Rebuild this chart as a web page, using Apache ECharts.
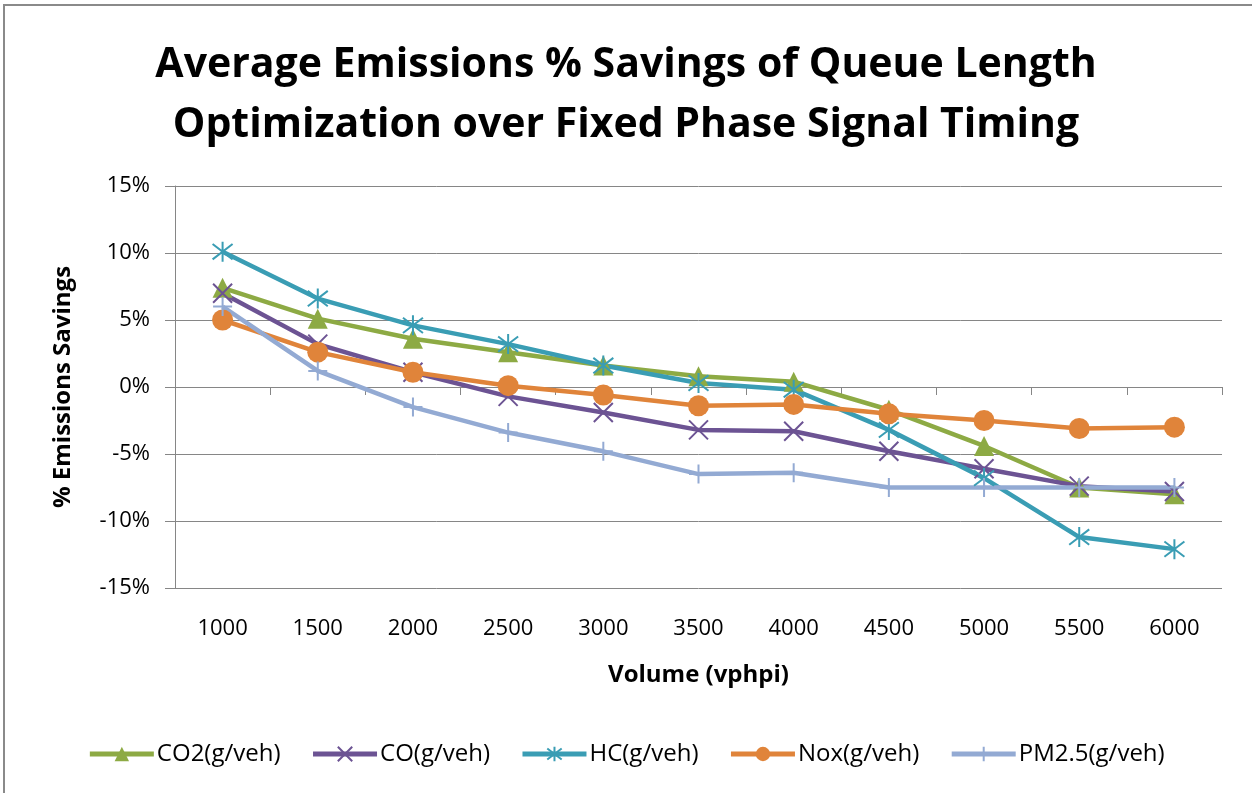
<!DOCTYPE html>
<html>
<head>
<meta charset="utf-8">
<script src="https://cdn.jsdelivr.net/npm/echarts@6/dist/echarts.min.js"></script>
<style>
html, body { margin: 0; padding: 0; background: #fff; }
#chart { width: 1252px; height: 793px; }
</style>
</head>
<body>
<div id="chart"></div>
<script>
// volume categories (vphpi)
var volumes = ['1000', '1500', '2000', '2500', '3000', '3500', '4000', '4500', '5000', '5500', '6000'];
// % savings per pollutant
var co2  = [7.4, 5.1, 3.6, 2.6, 1.6, 0.8, 0.4, -1.7, -4.4, -7.5, -8.0];
var co   = [7.0, 3.2, 1.1, -0.7, -1.9, -3.2, -3.3, -4.8, -6.1, -7.4, -7.8];
var hc   = [10.1, 6.6, 4.6, 3.2, 1.6, 0.3, -0.2, -3.2, -6.8, -11.2, -12.1];
var nox  = [5.0, 2.6, 1.1, 0.1, -0.6, -1.4, -1.3, -2.0, -2.5, -3.1, -3.0];
var pm25 = [6.0, 1.2, -1.5, -3.4, -4.8, -6.5, -6.4, -7.5, -7.5, -7.5, -7.5];
var yTicks = [-15, -10, -5, 0, 5, 10, 15];

var font = 'Open Sans';
var myChart = echarts.init(document.getElementById('chart'));

// one line series; stroke=true for the line-only markers (x, *, +)
function mkSeries(name, data, color, symbol, size, stroke) {
    return {
        name: name,
        type: 'line',
        data: data,
        symbol: symbol,
        symbolSize: size,
        showSymbol: true,
        xAxisIndex: 0,
        lineStyle: { color: color, width: 4.5 },
        itemStyle: stroke
            ? { color: color, borderColor: color, borderWidth: 2 }
            : { color: color, borderWidth: 0 },
        emphasis: { disabled: true },
        z: 3
    };
}

var option = {
    animation: false,
    backgroundColor: '#fff',
    graphic: [{
        type: 'rect',
        shape: { x: 4, y: 5, width: 1260, height: 800 },
        style: { fill: 'none', stroke: '#8a8a8a', lineWidth: 2 },
        silent: true
    }],
    title: {
        text: 'Average Emissions % Savings of Queue Length\nOptimization over Fixed Phase Signal Timing',
        left: 'center',
        top: 30,
        textStyle: {
            fontFamily: font,
            fontWeight: 'bold',
            fontSize: 41,
            lineHeight: 60,
            color: '#000'
        }
    },
    legend: {
        top: 737,
        left: 'center',
        itemWidth: 64,
        itemHeight: 18,
        itemGap: 30,
        lineStyle: { width: 5 },
        textStyle: { fontFamily: font, fontSize: 24, color: '#000', padding: [0, 0, 0, -2] },
        data: ['CO2(g/veh)', 'CO(g/veh)', 'HC(g/veh)', 'Nox(g/veh)', 'PM2.5(g/veh)']
    },
    grid: { left: 175, right: 30, top: 186, bottom: 205 },
    xAxis: [{
        type: 'category',
        data: volumes,
        boundaryGap: true,
        position: 'bottom',
        axisLine: { show: false, onZero: false },
        axisTick: { show: false },
        axisLabel: { fontFamily: font, fontSize: 22, color: '#000', margin: 30 },
        name: 'Volume (vphpi)',
        nameLocation: 'middle',
        nameGap: 75,
        nameTextStyle: { fontFamily: font, fontWeight: 'bold', fontSize: 24, color: '#000' }
    }, {
        // category axis drawn across the 0% line, as in the original
        type: 'category',
        data: volumes,
        boundaryGap: true,
        position: 'bottom',
        axisLine: { show: true, onZero: true, lineStyle: { color: '#868686', width: 1 } },
        axisTick: { show: true, inside: false, length: 8, lineStyle: { color: '#868686' } },
        axisLabel: { show: false }
    }],
    yAxis: {
        type: 'value',
        min: yTicks[0],
        max: yTicks[yTicks.length - 1],
        interval: 5,
        axisLine: { show: true, lineStyle: { color: '#868686' } },
        axisTick: { show: true, length: 10, lineStyle: { color: '#868686' } },
        splitLine: { show: true, lineStyle: { color: '#868686', width: 1 } },
        axisLabel: {
            fontFamily: font, fontSize: 22, color: '#000', margin: 25,
            formatter: function (v) { return v + '%'; }
        },
        name: '% Emissions Savings',
        nameLocation: 'middle',
        nameRotate: 90,
        nameGap: 100,
        nameTextStyle: { fontFamily: font, fontWeight: 'bold', fontSize: 24, color: '#000' }
    },
    series: [
        mkSeries('CO2(g/veh)', co2, '#8DAA44', 'triangle', 20, false),
        mkSeries('CO(g/veh)', co, '#6C5393', 'path://M0,0L10,10M10,0L0,10', 19, true),
        mkSeries('HC(g/veh)', hc, '#3A9DB4', 'path://M0,0L10,10M10,0L0,10M5,-1.5L5,11.5', 20, true),
        mkSeries('Nox(g/veh)', nox, '#E0843A', 'circle', 21, false),
        mkSeries('PM2.5(g/veh)', pm25, '#93AAD3', 'path://M5,0L5,10M0,5L10,5', 19, true)
    ]
};

myChart.setOption(option);
</script>
</body>
</html>
